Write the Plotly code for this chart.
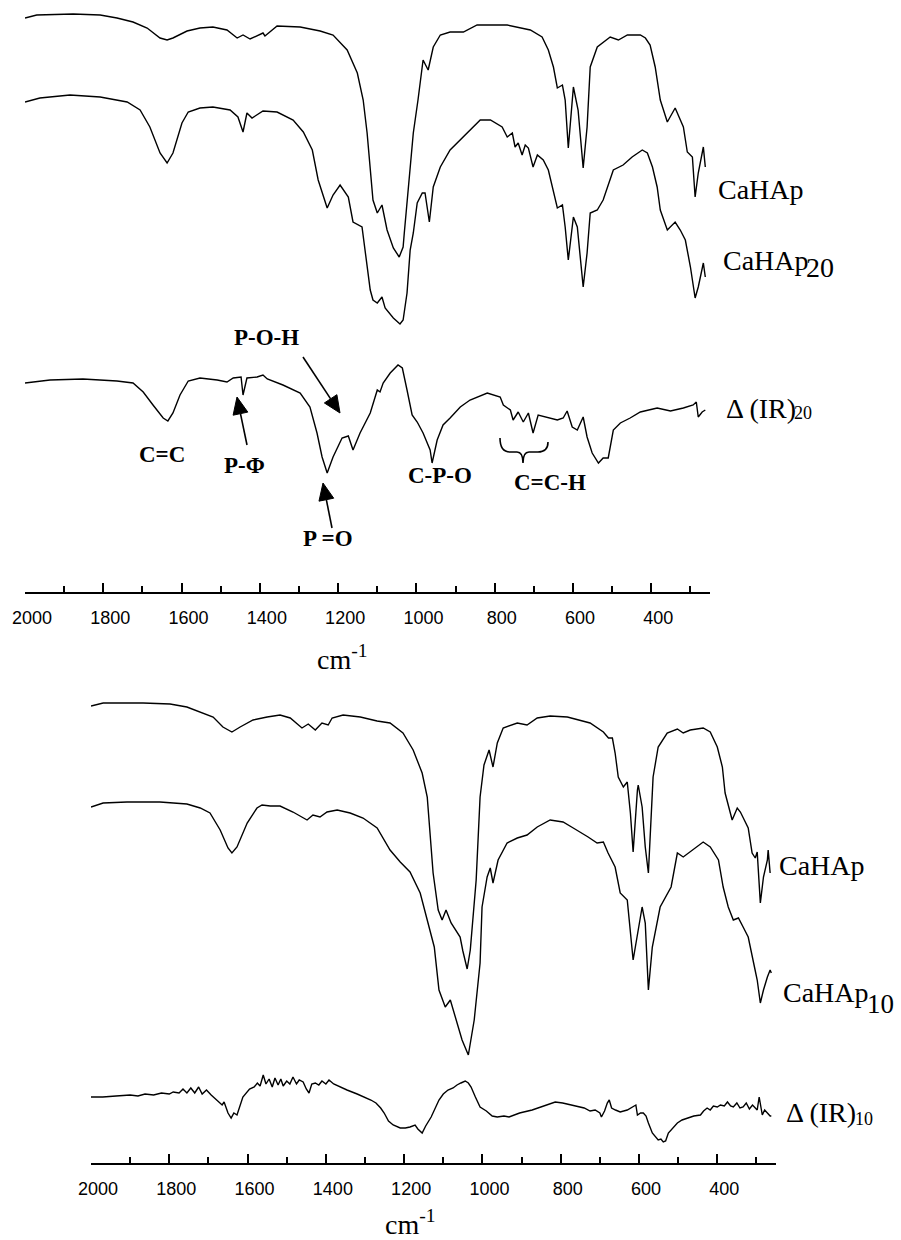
import math
import plotly.graph_objects as go

W, H = 901, 1240

# ---------------- data (wavenumber cm-1, transmittance in arbitrary offset units) ----------------
# Top panel
wn_cahap_top = [2000,1970,1877,1808,1765,1724,1688,1655,1637,1622,1586,1553,1520,1484,1458,1443,1425,1392,1387,1356,
                1297,1246,1213,1177,1151,1136,1126,1118,1111,1100,1088,1075,1059,1044,1034,1031,1024,1008,996,983,
                970,957,939,914,880,845,768,709,679,663,650,640,627,620,612,599,587,574,564,556,
                538,505,484,461,428,415,403,390,377,359,339,331,318,308,295,288,280,267,262]
t_cahap_top = [574,577,578,577,574,570,564,554,552,554,561,564,565,562,554,557,553,559,556,566,
               565,561,557,542,519,492,459,425,392,379,387,362,344,335,345,359,392,459,492,532,
               522,545,557,560,560,567,567,562,555,542,525,504,507,492,444,505,482,424,465,525,
               545,555,552,557,557,554,547,525,492,470,484,477,465,440,435,395,419,445,425]

wn_cahap20 = [2000,1962,1885,1808,1739,1706,1681,1655,1637,1622,1599,1583,1553,1520,1476,1456,1443,1433,1420,1392,
              1356,1315,1289,1266,1251,1228,1213,1195,1174,1162,1139,1131,1118,1111,1100,1088,1080,1059,1042,1034,
              1024,1016,1008,998,985,978,967,957,939,914,896,870,837,811,781,768,755,748,740,730,
              722,714,702,691,676,663,650,640,627,620,612,599,589,574,564,556,538,523,497,472,
              449,423,410,397,385,377,359,339,326,313,300,288,280,267,262]
t_cahap20 = [490,494,497,495,490,482,465,439,429,439,469,480,484,485,482,475,460,479,474,481,
             480,472,460,442,412,384,397,407,395,370,365,342,302,292,289,295,284,274,268,272,
             299,342,359,389,399,399,370,405,425,442,449,460,472,472,465,455,459,445,449,437,
             447,444,425,437,432,422,399,384,387,365,332,375,365,305,339,379,382,392,422,427,
             435,442,439,425,405,382,362,370,362,352,325,294,305,329,315]

wn_delta20 = [2000,1936,1852,1765,1724,1698,1673,1647,1635,1622,1604,1583,1553,1509,1484,1468,1448,1443,1433,1407,
              1392,1381,1341,1297,1272,1254,1241,1228,1213,1190,1174,1162,1144,1118,1100,1093,1085,1067,1047,1036,
              1024,1011,998,983,965,960,947,932,914,888,863,819,786,778,760,753,740,727,714,702,
              689,666,640,625,615,602,589,574,564,551,535,523,510,497,479,454,428,385,351,318,
              293,285,280,270,262]
t_delta20 = [209,212,213,211,209,200,187,174,171,179,197,211,214,212,210,214,215,197,214,215,
             217,213,207,199,185,159,135,119,135,154,156,142,159,179,202,200,209,219,227,224,
             202,177,170,159,142,129,152,167,174,185,192,199,195,187,182,172,180,170,179,159,
             177,175,172,174,181,165,162,175,155,139,129,134,134,162,169,174,180,184,181,184,
             187,190,175,180,182]

# Bottom panel
wn_cahap_bot = [2000,1969,1867,1798,1755,1721,1688,1663,1640,1619,1586,1550,1517,1491,1461,1445,1427,1410,1394,1384,
                1356,1312,1269,1236,1203,1177,1154,1141,1134,1126,1113,1103,1093,1080,1057,1050,1039,1031,1016,1006,
                996,983,973,962,947,911,886,860,827,783,725,691,678,668,661,653,640,630,622,615,
                604,602,592,584,576,571,564,551,528,502,487,469,436,418,400,387,380,362,349,341,
                334,321,311,303,298,290,282,272,270,265]
t_cahap_bot = [457,460,460,459,456,451,446,436,431,436,443,446,448,445,435,439,433,440,438,445,
               448,446,442,440,430,413,390,366,333,290,253,243,253,240,226,212,194,213,283,366,
               398,413,396,420,435,440,438,445,447,446,440,431,425,425,410,386,376,381,350,311,
               373,378,356,316,290,333,386,416,430,434,430,433,435,431,416,396,370,343,355,351,
               345,335,310,305,311,260,286,303,313,290]

wn_cahap10 = [2000,1969,1908,1824,1755,1721,1696,1670,1650,1640,1627,1601,1576,1563,1542,1517,1484,1448,1433,1415,
              1397,1371,1338,1305,1269,1236,1210,1185,1159,1141,1123,1111,1095,1082,1072,1052,1036,1021,1006,1001,
              988,980,973,960,937,911,886,860,827,794,768,750,730,707,691,679,661,648,630,615,
              592,584,576,566,546,518,502,487,451,436,418,397,385,372,359,346,334,321,305,298,
              290,282,272,265,262]
t_cahap10 = [356,360,361,361,359,355,350,333,315,310,316,340,355,358,357,357,351,343,348,346,
             351,353,350,345,335,313,301,291,270,243,216,173,156,163,150,123,108,143,200,256,
             286,295,280,303,320,325,328,336,343,341,335,331,326,320,321,310,296,270,263,203,
             256,240,173,216,256,276,310,306,316,321,316,303,276,256,243,245,236,226,196,183,
             160,173,186,193,190]

wn_delta10 = [2000,1970,1936,1900,1880,1862,1840,1820,1800,1790,1775,1765,1755,1745,1735,1725,1716,1705,1693,1678,
              1665,1660,1650,1642,1635,1627,1612,1595,1583,1575,1568,1560,1553,1545,1537,1530,1522,1515,1509,1500,
              1492,1484,1475,1468,1458,1450,1443,1436,1427,1418,1410,1400,1392,1380,1365,1346,1320,1302,1285,1272,
              1260,1251,1240,1228,1210,1197,1185,1172,1165,1154,1145,1131,1120,1111,1100,1088,1075,1065,1055,1044,
              1036,1029,1018,1006,990,975,962,945,932,905,873,845,814,795,775,755,740,725,712,700,
              696,688,681,676,670,660,648,630,615,608,604,596,589,582,576,566,551,544,538,532,
              525,515,502,490,477,460,443,435,426,418,410,400,392,382,374,366,359,350,342,334,
              326,318,310,298,293,288,285,279,272,265,262]
t_delta10 = [66,66,67,68,67,69,68,70,69,71,70,74,70,75,70,76,69,73,68,63,
             58,61,50,45,50,48,66,74,76,80,77,88,79,84,76,85,78,84,77,82,
             79,86,79,83,81,74,70,79,80,78,82,79,83,79,76,73,69,66,63,60,
             55,50,42,38,35,35,36,38,34,30,37,46,55,63,69,73,75,78,80,82,
             80,76,66,56,52,47,46,47,46,50,53,57,61,60,58,56,55,52,53,50,
             46,52,60,63,55,53,51,53,56,58,48,50,50,47,40,30,23,24,21,22,
             30,34,40,43,45,47,48,52,55,53,57,56,58,57,61,57,56,60,55,56,
             60,54,58,53,66,52,48,53,50,47,47]

major_ticks = [2000, 1800, 1600, 1400, 1200, 1000, 800, 600, 400]
major_labels = ["2000", "1800", "1600", "1400", "1200", "1000", "800", "600", "400"]
minor_ticks = [1900, 1700, 1500, 1300, 1100, 900, 700, 500, 300]

# ---------------- figure ----------------
SERIF = "Liberation Serif, Times New Roman, serif"
SANS = "Liberation Sans, Arial, sans-serif"
LINE = dict(color="black", width=1.4)

fig = go.Figure()
for xs, ys in [(wn_cahap_top, t_cahap_top), (wn_cahap20, t_cahap20), (wn_delta20, t_delta20)]:
    fig.add_trace(go.Scatter(x=xs, y=ys, mode="lines", line=LINE, showlegend=False,
                             hoverinfo="skip", xaxis="x", yaxis="y"))
for xs, ys in [(wn_cahap_bot, t_cahap_bot), (wn_cahap10, t_cahap10), (wn_delta10, t_delta10)]:
    fig.add_trace(go.Scatter(x=xs, y=ys, mode="lines", line=LINE, showlegend=False,
                             hoverinfo="skip", xaxis="x2", yaxis="y2"))


def xaxis_cfg(left, right, anchor):
    return dict(domain=[left / W, right / W], range=[2000, 250], anchor=anchor,
                automargin=True, ticklabeloverflow="allow",
                showline=True, linecolor="black", linewidth=1.5, mirror=False,
                ticks="inside", ticklen=9, tickwidth=1.5, tickcolor="black",
                tickvals=major_ticks, ticktext=major_labels,
                tickfont=dict(family=SANS, size=18, color="black"),
                ticklabelshift=-7, ticklabelstandoff=9,
                minor=dict(tickvals=minor_ticks, ticks="inside", ticklen=6, tickwidth=1.5,
                           tickcolor="black", showgrid=False),
                showgrid=False, zeroline=False, fixedrange=True)


fig.update_layout(
    width=W, height=H, margin=dict(l=0, r=0, t=0, b=0, autoexpand=False),
    paper_bgcolor="white", plot_bgcolor="white",
    xaxis=xaxis_cfg(25, 710, "y"),
    yaxis=dict(domain=[1 - 592 / H, 1], range=[0, 592], visible=False, fixedrange=True,
               automargin=False),
    xaxis2=xaxis_cfg(91, 776, "y2"),
    yaxis2=dict(domain=[1 - 1163 / H, 1 - 680 / H], range=[0, 483], visible=False, fixedrange=True,
                automargin=False),
)


def px(x, y):
    return x / W, 1 - y / H


annotations = []


def label(text, x, baseline, size, anchor="left", bold=False):
    cy = baseline - 0.33 * size
    xp, yp = px(x, cy)
    t = "<b>%s</b>" % text if bold else text
    annotations.append(dict(text=t, x=xp, y=yp, xref="paper", yref="paper", showarrow=False,
                            xanchor=anchor, yanchor="middle", borderpad=0,
                            font=dict(family=SERIF, size=size, color="black")))


def arrow(tip, tail, head_len=17, head_half=7.5):
    # shaft + filled triangular head, drawn as shapes in paper coordinates
    dx, dy = tip[0] - tail[0], tip[1] - tail[1]
    n = math.hypot(dx, dy)
    ux, uy = dx / n, dy / n
    bx, by = tip[0] - head_len * ux, tip[1] - head_len * uy
    nx, ny = -uy, ux
    t0 = px(*tail)
    b0 = px(bx, by)
    fig.add_shape(type="line", xref="paper", yref="paper", x0=t0[0], y0=t0[1], x1=b0[0], y1=b0[1],
                  line=dict(color="black", width=1.6))
    p1 = px(*tip)
    p2 = px(bx + head_half * nx, by + head_half * ny)
    p3 = px(bx - head_half * nx, by - head_half * ny)
    fig.add_shape(type="path", xref="paper", yref="paper",
                  path="M {},{} L {},{} L {},{} Z".format(p1[0], p1[1], p2[0], p2[1], p3[0], p3[1]),
                  fillcolor="black", line=dict(color="black", width=1))


# top panel series labels
label("CaHAp", 717, 199, 28)
label("CaHAp", 810, 270, 28, anchor="right")
label("20", 805, 277, 28)
label("Δ (IR)", 797, 418, 28, anchor="right")
label("20", 793, 419, 18)

# peak assignments
label("P-O-H", 266, 345, 23, anchor="center", bold=True)
label("C=C", 162, 462, 23, anchor="center", bold=True)
label("P-Φ", 245, 473, 23, anchor="center", bold=True)
label("P =O", 328, 546, 23, anchor="center", bold=True)
label("C-P-O", 440, 483, 23, anchor="center", bold=True)
label("C=C-H", 550, 490, 23, anchor="center", bold=True)
arrow((340, 413), (303, 357))
arrow((237, 397), (247, 445))
arrow((323, 483), (332, 528))

# axis titles
label("cm<sup>-1</sup>", 342, 667, 28, anchor="center")
label("cm<sup>-1</sup>", 410, 1232, 28, anchor="center")

# bottom panel series labels
label("CaHAp", 778, 875, 28)
label("CaHAp", 870, 1002, 28, anchor="right")
label("10", 866, 1013, 27)
label("Δ (IR)", 857, 1122, 28, anchor="right")
label("10", 854, 1125, 18)

fig.update_layout(annotations=annotations)

# brace under the C=C-H region
pts = [(500, 438), (500, 452), (510, 452), (517, 452), (523, 452), (523, 463),
       (523, 452), (529, 452), (538, 452), (548, 452), (548, 442)]
pp = [px(*p) for p in pts]
path = ("M {0[0]},{0[1]} Q {1[0]},{1[1]} {2[0]},{2[1]} L {3[0]},{3[1]} Q {4[0]},{4[1]} {5[0]},{5[1]} "
        "Q {6[0]},{6[1]} {7[0]},{7[1]} L {8[0]},{8[1]} Q {9[0]},{9[1]} {10[0]},{10[1]}").format(*pp)
fig.add_shape(type="path", path=path, xref="paper", yref="paper",
              line=dict(color="black", width=1.6))

fig.write_html("out.html")
